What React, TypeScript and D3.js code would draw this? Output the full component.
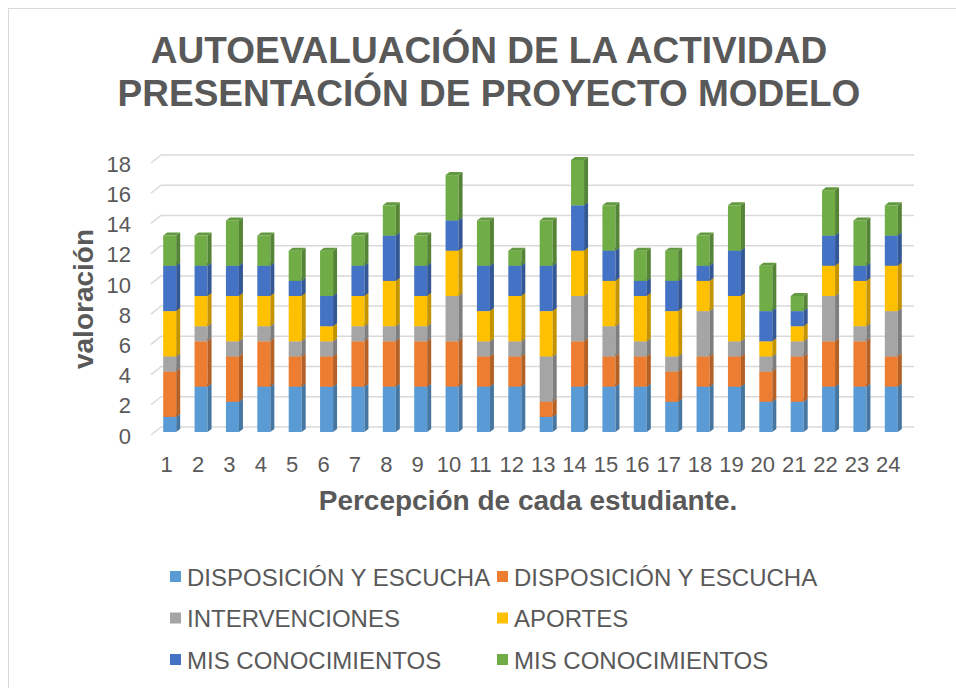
import React from "react";
import * as d3 from "d3";

const width = 956;
const height = 688;

const students = d3.range(1, 25).map(String);

// values per student, one array per series (bottom to top of each stack)
const disposicion1 = [1, 3, 2, 3, 3, 3, 3, 3, 3, 3, 3, 3, 1, 3, 3, 3, 2, 3, 3, 2, 2, 3, 3, 3];
const disposicion2 = [3, 3, 3, 3, 2, 2, 3, 3, 3, 3, 2, 2, 1, 3, 2, 2, 2, 2, 2, 2, 3, 3, 3, 2];
const intervenciones = [1, 1, 1, 1, 1, 1, 1, 1, 1, 3, 1, 1, 3, 3, 2, 1, 1, 3, 1, 1, 1, 3, 1, 3];
const aportes = [3, 2, 3, 2, 3, 1, 2, 3, 2, 3, 2, 3, 3, 3, 3, 3, 3, 2, 3, 1, 1, 2, 3, 3];
const conocimientos1 = [3, 2, 2, 2, 1, 2, 2, 3, 2, 2, 3, 2, 3, 3, 2, 1, 2, 1, 3, 2, 1, 2, 1, 2];
const conocimientos2 = [2, 2, 3, 2, 2, 3, 2, 2, 2, 3, 3, 1, 3, 3, 3, 2, 2, 2, 3, 3, 1, 3, 3, 2];

const seriesNames = [
  "DISPOSICIÓN Y ESCUCHA",
  "DISPOSICIÓN Y ESCUCHA",
  "INTERVENCIONES",
  "APORTES",
  "MIS CONOCIMIENTOS",
  "MIS CONOCIMIENTOS",
];
const seriesValues = [disposicion1, disposicion2, intervenciones, aportes, conocimientos1, conocimientos2];
const colors = ["#5B9BD5", "#ED7D31", "#A5A5A5", "#FFC000", "#4472C4", "#70AD47"];

const yTicks = d3.range(0, 19, 2);

const font = "'Liberation Sans', Arial, sans-serif";
const textColor = "#595959";

// 3D offsets: back wall and bar depth
const wallDx = 10;
const wallDy = -8;
const barDx = 3;
const barDy = -3;
const sideDx = 4;
const sideDy = -3;

const App = () => {
  const rows = students.map((s, i) => {
    const row: Record<string, number | string> = { student: s };
    seriesValues.forEach((vals, k) => (row["s" + k] = vals[i]));
    return row;
  });
  const keys = seriesValues.map((_, k) => "s" + k);
  const stacked = d3.stack<any>().keys(keys)(rows);

  const x = d3.scaleBand().domain(students).range([151, 904]);
  const y = d3.scaleLinear().domain([0, 18]).range([435, 163]);
  const barW = 13;

  return (
    <div style={{ position: "absolute", left: 0, top: 0 }}>
      <svg width={width} height={height} style={{ display: "block", fontFamily: font }}>
        <rect x={0} y={0} width={width} height={height} fill="#fff" />
        <rect x={8.5} y={8.5} width={width + 20} height={height + 20} fill="none" stroke="#d9d9d9" />

        {/* title */}
        <text x={489} y={63} textAnchor="middle" fontSize={37} fontWeight="bold" fill={textColor}>
          AUTOEVALUACIÓN DE LA ACTIVIDAD
        </text>
        <text x={489} y={106} textAnchor="middle" fontSize={37} fontWeight="bold" fill={textColor}>
          PRESENTACIÓN DE PROYECTO MODELO
        </text>

        {/* gridlines on the back wall */}
        {yTicks.map((t) => (
          <g key={t} stroke="#d9d9d9" strokeWidth={1.5} fill="none">
            <line x1={x.range()[0]} y1={y(t)} x2={x.range()[0] + wallDx} y2={y(t) + wallDy} />
            <line x1={x.range()[0] + wallDx} y1={y(t) + wallDy} x2={x.range()[1] + wallDx} y2={y(t) + wallDy} />
          </g>
        ))}

        {/* y tick labels */}
        {yTicks.map((t) => (
          <text key={t} x={131} y={y(t) + 1} dy="0.35em" textAnchor="end" fontSize={22} fill={textColor}>
            {t}
          </text>
        ))}

        {/* stacked 3D bars */}
        {students.map((s, i) => {
          const x0 = x(s)! + x.bandwidth() / 2 - barW / 2 + barDx;
          return (
            <g key={s}>
              {stacked.map((layer, k) => {
                const [v0, v1] = layer[i];
                const yt = y(v1) + barDy;
                const yb = y(v0) + barDy;
                const c = d3.color(colors[k])!;
                const side = c.darker(0.75).formatHex();
                const top = c.darker(0.35).formatHex();
                return (
                  <g key={k}>
                    <rect x={x0} y={yt} width={barW} height={yb - yt} fill={colors[k]} />
                    <polygon
                      points={`${x0 + barW},${yb} ${x0 + barW},${yt} ${x0 + barW + sideDx},${yt + sideDy} ${x0 + barW + sideDx},${yb + sideDy}`}
                      fill={side}
                    />
                    <polygon
                      points={`${x0},${yt} ${x0 + barW},${yt} ${x0 + barW + sideDx},${yt + sideDy} ${x0 + sideDx},${yt + sideDy}`}
                      fill={top}
                    />
                  </g>
                );
              })}
            </g>
          );
        })}

        {/* x tick labels */}
        {students.map((s) => (
          <text key={s} x={x(s)! + x.bandwidth() / 2} y={472} textAnchor="middle" fontSize={22} fill={textColor}>
            {s}
          </text>
        ))}

        {/* axis titles */}
        <text x={528} y={510} textAnchor="middle" fontSize={28} fontWeight="bold" fill={textColor}>
          Percepción de cada estudiante.
        </text>
        <text
          transform={`translate(93,299) rotate(-90)`}
          textAnchor="middle"
          fontSize={28}
          fontWeight="bold"
          fill={textColor}
        >
          valoración
        </text>

        {/* legend */}
        {seriesNames.map((name, k) => {
          const col = k % 2;
          const row = Math.floor(k / 2);
          const lx = col === 0 ? 170 : 497;
          const ly = 577 + row * 41.5;
          return (
            <g key={k}>
              <rect x={lx} y={ly - 6} width={11} height={11} fill={colors[k]} />
              <text x={lx + 17} y={ly + 8.5} fontSize={24} fill={textColor}>
                {name}
              </text>
            </g>
          );
        })}
      </svg>
    </div>
  );
};

export default App;
